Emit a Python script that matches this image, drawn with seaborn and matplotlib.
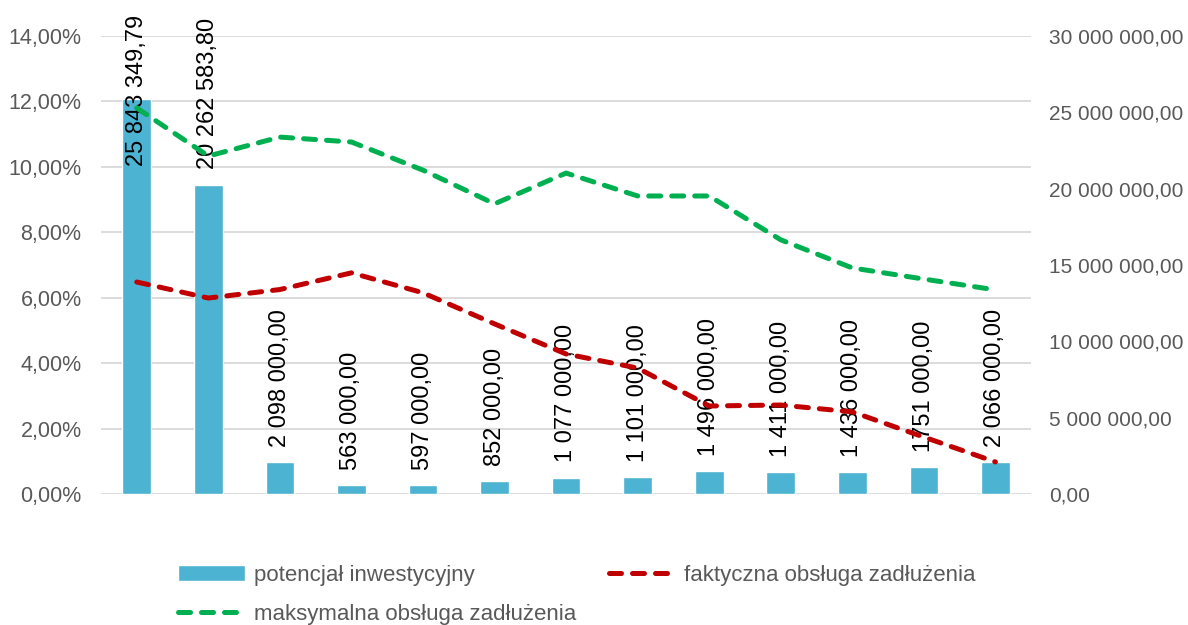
import numpy as np
import pandas as pd
import matplotlib
matplotlib.use("Agg")
import matplotlib.pyplot as plt
import seaborn as sns
from matplotlib.ticker import FuncFormatter, MultipleLocator

years = ["2025", "2026", "2027", "2028", "2029", "2030", "2031",
         "2032", "2033", "2034", "2035", "2036", "2037"]

# potencjal inwestycyjny (right axis, PLN)
potencjal = [25843349.79, 20262583.80, 2098000, 563000, 597000, 852000, 1077000,
             1101000, 1496000, 1411000, 1436000, 1751000, 2066000]
potencjal_labels = ["25 843 349,79", "20 262 583,80", "2 098 000,00", "563 000,00",
                    "597 000,00", "852 000,00", "1 077 000,00", "1 101 000,00",
                    "1 496 000,00", "1 411 000,00", "1 436 000,00", "1751 000,00",
                    "2 066 000,00"]

# debt service ratios (left axis, %)
faktyczna = [6.48, 5.99, 6.25, 6.76, 6.15, 5.20, 4.28, 3.85, 2.69, 2.72, 2.51, 1.74, 0.98]
maksymalna = [11.80, 10.33, 10.91, 10.76, 9.90, 8.87, 9.81, 9.11, 9.11, 7.77, 6.91, 6.57, 6.24]

sns.set_style("white")
plt.rcParams['font.family'] = ['Liberation Sans', 'DejaVu Sans']

grey = "#595959"
bar_col = "#4DB3D2"
red = "#C00000"
green = "#00B050"

df = pd.DataFrame({"rok": years, "potencjal": potencjal,
                   "faktyczna": faktyczna, "maksymalna": maksymalna})
df["idx"] = np.arange(len(df))

fig = plt.figure(figsize=(11.88, 6.25), dpi=100)
ax = fig.add_axes([0.085, 0.2096, 0.783, 0.7328])

# bars on primary axis, which carries the right-hand scale
sns.barplot(data=df, x="rok", y="potencjal", color=bar_col, width=0.4,
            saturation=1, ax=ax, label="potencjał inwestycyjny", zorder=2)
if ax.get_legend() is not None:
    ax.get_legend().remove()
ax.set_ylim(0, 30000000)
ax.yaxis.set_major_locator(MultipleLocator(5000000))
ax.yaxis.set_major_formatter(FuncFormatter(
    lambda v, p: f"{v:,.2f}".replace(",", " ").replace(".", ",")))
ax.set_xlim(-0.5, len(years) - 0.5)
ax.set_xlabel("")
ax.set_ylabel("")

# value labels above the bars
for i, (v, lab) in enumerate(zip(potencjal, potencjal_labels)):
    if v > 0.8 * 30000000:
        ax.annotate(lab, xy=(i, 1), xycoords=("data", "axes fraction"),
                    xytext=(0, 15), textcoords="offset points",
                    rotation=90, ha="center", va="top", fontsize=17, color="black")
    else:
        ax.annotate(lab, xy=(i, v), xytext=(0, 11), textcoords="offset points",
                    rotation=90, ha="center", va="bottom", fontsize=17, color="black",
                    annotation_clip=False)

# lines on twin axis, with ticks on the left
ax2 = ax.twinx()
sns.lineplot(data=df, x="idx", y="faktyczna", color=red, lw=3.6, ax=ax2,
             label="faktyczna obsługa zadłużenia", legend=False)
sns.lineplot(data=df, x="idx", y="maksymalna", color=green, lw=3.6, ax=ax2,
             label="maksymalna obsługa zadłużenia", legend=False)
if ax2.get_legend() is not None:
    ax2.get_legend().remove()
for ln in ax2.get_lines():
    ln.set_linestyle((0, (2.4, 2.2)))
    ln.set_dash_capstyle("round")
    ln.set_solid_capstyle("round")
ax2.set_ylim(0, 14)
ax2.yaxis.set_major_locator(MultipleLocator(2))
ax2.yaxis.set_major_formatter(FuncFormatter(lambda v, p: f"{v:.2f}%".replace(".", ",")))
ax2.set_xlim(-0.5, len(years) - 0.5)
ax2.set_xlabel("")
ax2.set_ylabel("")

# swap sides: percent on the left, money on the right
ax.yaxis.tick_right()
ax2.yaxis.tick_left()

# gridlines follow the left (percent) scale, drawn behind the bars
for t in np.arange(0, 14.01, 2):
    ax.axhline(t / 14 * 30000000, color="#D9D9D9", lw=1.3, zorder=0)

for a in (ax, ax2):
    for s in a.spines.values():
        s.set_visible(False)
    a.tick_params(length=0, labelsize=15.5, labelcolor=grey)
ax.tick_params(axis="x", labelsize=16.5, pad=8)
ax.tick_params(axis="y", pad=13, labelsize=15)
ax2.tick_params(axis="y", pad=14)
ax2.set_xticks([])

# legend: two columns, last entry wraps to the second row
h1, l1 = ax.get_legend_handles_labels()
h2, l2 = ax2.get_legend_handles_labels()
handles = [h1[0], h2[1], h2[0]]
labels = [l1[0], l2[1], l2[0]]
fig.legend(handles, labels, ncol=2, loc="upper left", bbox_to_anchor=(0.15, 0.096),
           frameon=False, fontsize=16, labelcolor=grey, handlelength=3.0,
           handletextpad=0.4, columnspacing=1.48, borderaxespad=0, borderpad=0,
           labelspacing=0.82)

fig.savefig("out.png", dpi=100)
